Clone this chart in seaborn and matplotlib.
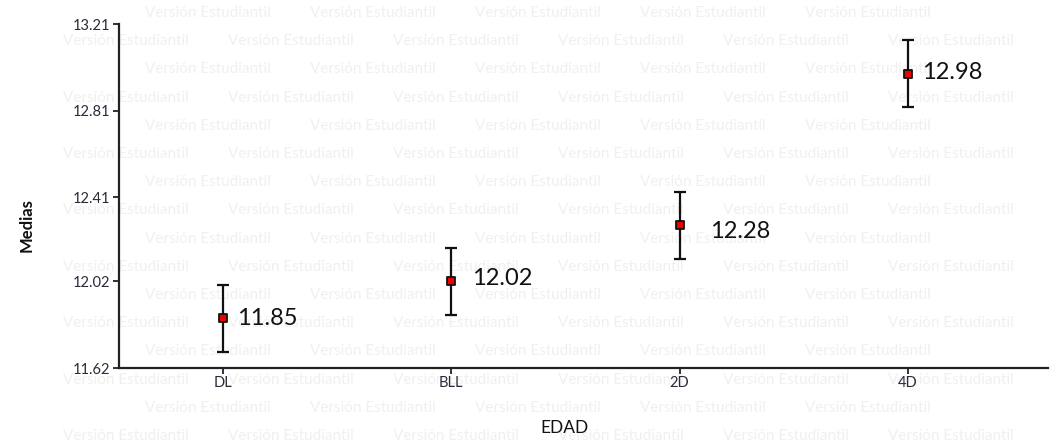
import matplotlib
matplotlib.use("Agg")
import matplotlib.pyplot as plt
import seaborn as sns
import pandas as pd

# datos
grupos = ['DL', 'BLL', '2D', '4D']
medias = [11.85, 12.02, 12.28, 12.98]
errores = [0.155, 0.155, 0.155, 0.155]
yticks = [11.62, 12.02, 12.41, 12.81, 13.21]

df = pd.DataFrame({'EDAD': grupos, 'Medias': medias, 'err': errores})

sns.set_theme(style='ticks')
plt.rcParams['font.family'] = ['Lato', 'DejaVu Sans']
plt.rcParams['axes.unicode_minus'] = False

fig = plt.figure(figsize=(10.53, 4.48), dpi=100)
fig.patch.set_facecolor('white')

# marca de agua de fondo (muy tenue)
marca = 'Versión Estudiantil'
for k in range(16):
    y_px = 13 + 28.2 * k
    x_px = 310 if k % 2 == 0 else 228
    while x_px - 165 >= 0:
        x_px -= 165
    while x_px + 135 < 1053:
        fig.text(x_px / 1053, 1 - y_px / 448, marca, fontsize=11, color='#f3efef',
                 ha='left', va='center', zorder=-1)
        x_px += 165

ax = fig.add_axes([119 / 1053, 1 - 368 / 448, (1048 - 119) / 1053, (368 - 24) / 448])
ax.set_facecolor('none')

x = list(range(len(grupos)))
ax.errorbar(x, df['Medias'], yerr=df['err'], fmt='none', ecolor='#111111',
            elinewidth=1.6, capsize=4, capthick=1.6, zorder=2)
sns.stripplot(data=df, x='EDAD', y='Medias', jitter=False, marker='s', size=6,
              color='#ee0000', edgecolor='#111111', linewidth=1.3, ax=ax, zorder=3)

# etiquetas con el valor de cada media
dx = [14, 21, 30, 14]
dy = [0, 3, -6, 1]
for i, m in enumerate(medias):
    ax.annotate(f'{m:.2f}', (i, m), xytext=(dx[i] * 0.72, dy[i] * 0.72),
                textcoords='offset points', ha='left', va='center',
                fontsize=17, color='#111111')

ax.set_xlim(-0.4555, 3.613)
ax.set_ylim(11.62, 13.21)
ax.set_yticks(yticks)
ax.set_yticklabels([f'{t:.2f}' for t in yticks])

for s in ['top', 'right']:
    ax.spines[s].set_visible(False)
for s in ['left', 'bottom']:
    ax.spines[s].set_color('#222222')
    ax.spines[s].set_linewidth(1.6)

ax.tick_params(axis='both', length=4, width=1.3, color='#222222',
               labelsize=10.5, labelcolor='#2a2a3a', pad=2)

ax.set_xlabel('EDAD', fontsize=12.5, color='#111111')
ax.set_ylabel('Medias', fontsize=12, color='#111111', fontweight='bold')
ax.xaxis.set_label_coords(0.48, -0.151)
ax.yaxis.set_label_coords(-0.0904, 0.416)

fig.savefig('out.png', dpi=100, facecolor='white')
